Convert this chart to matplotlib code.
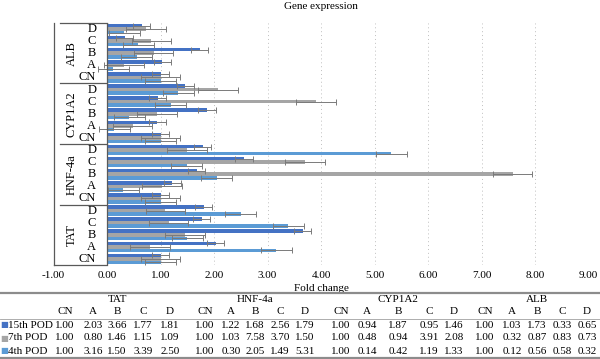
import matplotlib as mpl
mpl.use('Agg')
import matplotlib.pyplot as plt
import matplotlib.ticker as ticker
from matplotlib.lines import Line2D
import numpy as np
from matplotlib import rcParams

rcParams['font.family'] = ['Liberation Serif', 'DejaVu Serif']
rcParams['font.size'] = 8

# ---- data ---------------------------------------------------------------------
genes    = ['TAT', 'HNF-4a', 'CYP1A2', 'ALB']          # bottom -> top
subcats  = ['CN', 'A', 'B', 'C', 'D']
series   = ['15th POD', '7th POD', '4th POD']
pod15 = [1.00, 2.03, 3.66, 1.77, 1.81,
         1.00, 1.22, 1.68, 2.56, 1.79,
         1.00, 0.94, 1.87, 0.95, 1.46,
         1.00, 1.03, 1.73, 0.33, 0.65]
pod7  = [1.00, 0.80, 1.46, 1.15, 1.09,
         1.00, 1.03, 7.58, 3.70, 1.50,
         1.00, 0.48, 0.94, 3.91, 2.08,
         1.00, 0.32, 0.87, 0.83, 0.73]
pod4  = [1.00, 3.16, 1.50, 3.39, 2.50,
         1.00, 0.30, 2.05, 1.49, 5.31,
         1.00, 0.14, 0.42, 1.19, 1.33,
         1.00, 0.12, 0.56, 0.58, 0.32]
err15, err7, err4 = 0.16, 0.37, 0.29
xticks = [-1, 0, 1, 2, 3, 4, 5, 6, 7, 8, 9]
#--------------------------------------------------------------------------------

colors = ['#4472c4', '#a5a5a5', '#5b9bd5']
W, H = 600, 359
fig = plt.figure(figsize=(W/100, H/100), dpi=100)

def px(x, y):
    return x/W, 1 - y/H

left, right, top, bottom = 53.5, 588.5, 23, 265
ax = fig.add_axes([left/W, 1-bottom/H, (right-left)/W, (bottom-top)/H])

n = len(genes)*len(subcats)
ypos = np.arange(n)
bh = 0.29
for vals, err, c, off in zip([pod15, pod7, pod4], [err15, err7, err4], colors, [bh, 0, -bh]):
    ax.barh(ypos+off, vals, height=bh, color=c, zorder=2)
    ax.errorbar(vals, ypos+off, xerr=err, fmt='none', ecolor='#7a7a7a',
                elinewidth=0.7, capsize=2, capthick=0.7, zorder=3)

ax.set_xlim(-1, 9)
ax.set_ylim(-0.5, n-0.5)
ax.set_xticks(xticks)
ax.xaxis.set_major_formatter(ticker.FuncFormatter(lambda v, p: '%.2f' % v))
ax.tick_params(axis='x', length=0, pad=4, labelsize=8)
ax.set_yticks([])
for s in ['top', 'right', 'bottom']:
    ax.spines[s].set_visible(False)
ax.spines['left'].set_color('#595959')
ax.spines['left'].set_linewidth(0.9)
for g in xticks[2:]:
    ax.axvline(g, color='#bfbfbf', linestyle=(0, (1, 3)), linewidth=0.7, zorder=1)
ax.axvline(0, color='#595959', linewidth=0.9, zorder=4)

# category labels (two levels) inside the -1..0 band
for gi, g in enumerate(genes):
    ax.text(-0.66, gi*5 + 2, g, rotation=90, ha='center', va='center', fontsize=9)
    for si, s in enumerate(subcats):
        ax.text(-0.2, gi*5 + si, s, ha='right', va='center', fontsize=9)
for gi in range(len(genes)+1):
    yb = gi*5 - 0.5
    x0 = -1 if gi == 0 else -0.87
    ax.plot([x0, 0], [yb, yb], color='#595959', linewidth=0.9, clip_on=False)

ax.set_xlabel('Fold change', fontsize=8, labelpad=3)
ax.set_title('Gene expression', fontsize=8, pad=10)

# ---- data table below the chart ----------------------------------------------
cols = [[65, 93, 117, 143, 170], [205, 231, 255, 280, 305],
        [341, 367, 398, 429, 454], [485, 512, 537, 562, 587]]
fig.add_artist(Line2D([0, 1], [1-293/H]*2, color='#8c8c8c', linewidth=1.6))
fig.add_artist(Line2D([0, 1], [1-319/H]*2, color='#a0a0a0', linewidth=0.6))
fig.add_artist(Line2D([0, 1], [1-358/H]*2, color='#8c8c8c', linewidth=1.6))
for gi, g in enumerate(genes):
    fig.text(*px(cols[gi][2], 300), g, ha='center', va='center', fontsize=8)
    for si, s in enumerate(subcats):
        fig.text(*px(cols[gi][si], 312), s, ha='center', va='center', fontsize=8)
rows_y = [325, 338, 351]
for ri, (name, vals, c) in enumerate(zip(series, [pod15, pod7, pod4], colors)):
    fig.text(*px(0, rows_y[ri]), '\u25A0', color=c, ha='left', va='center', fontsize=6,
             family='DejaVu Sans')
    fig.text(*px(8, rows_y[ri]), name, ha='left', va='center', fontsize=8)
    for gi in range(len(genes)):
        for si in range(len(subcats)):
            fig.text(*px(cols[gi][si], rows_y[ri]), '%.2f' % vals[gi*5+si],
                     ha='center', va='center', fontsize=8)

plt.savefig('out.png', dpi=100)
